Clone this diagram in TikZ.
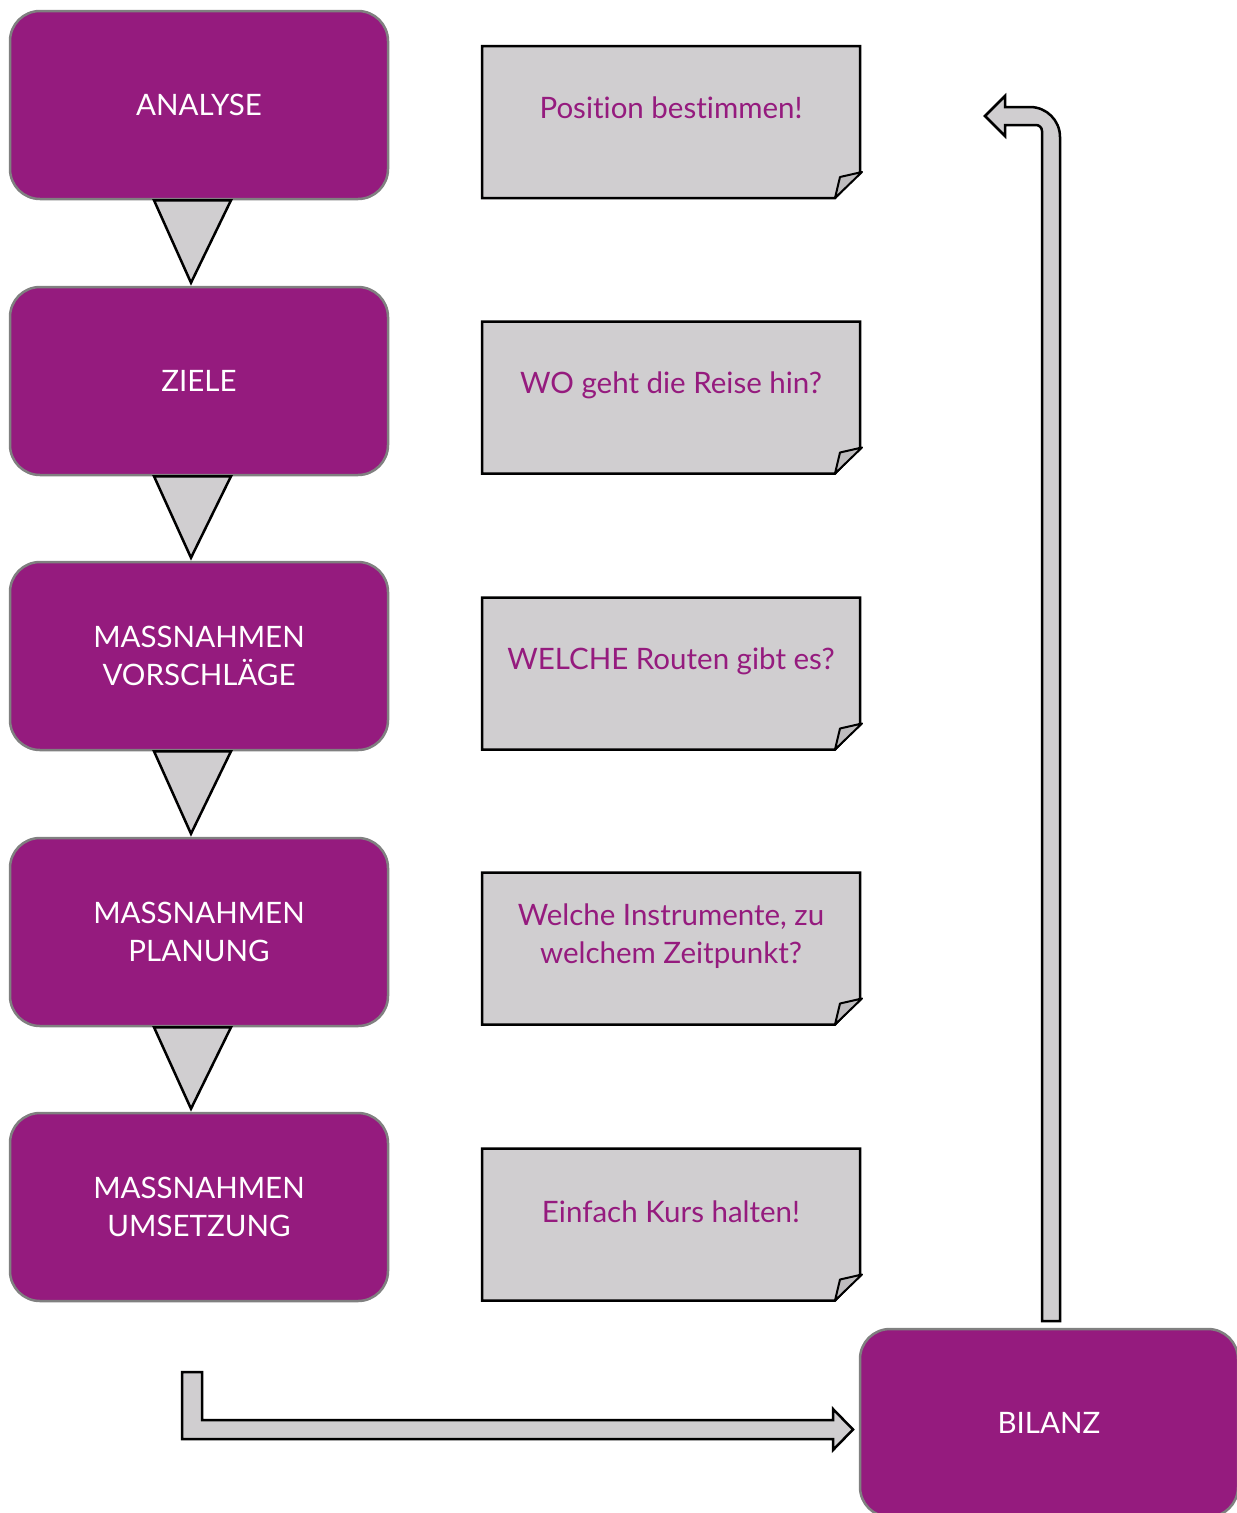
\documentclass[tikz,border=0pt]{standalone}
\usepackage{fontspec}
\setmainfont{Lato}[Ligatures={NoCommon,NoRare}]
\usetikzlibrary{calc}
\definecolor{boxpurple}{RGB}{149,27,126}
\definecolor{boxborder}{RGB}{128,128,128}
\definecolor{notegray}{RGB}{208,206,208}
\definecolor{foldgray}{RGB}{190,188,190}
\pgfdeclarelayer{bg}
\pgfsetlayers{bg,main}
\tikzset{
  stagebox/.style={rectangle, rounded corners=30pt, fill=boxpurple, draw=boxborder,
    line width=2.5pt, minimum width=378pt, minimum height=188pt, inner sep=0pt,
    text=white, align=center, font=\fontsize{29.5}{38}\selectfont},
  notearea/.style={rectangle, minimum width=378pt, minimum height=152pt, inner sep=0pt, outer sep=0pt},
  notetext/.style={text=boxpurple, align=center, font=\fontsize{29.5}{38}\selectfont, inner sep=0pt},
  noteshape/.style={fill=notegray, draw=black, line width=2.5pt, line join=miter},
  foldshape/.style={fill=foldgray, draw=black, line width=2pt, line join=round},
  tri/.style={fill=notegray, draw=black, line width=2.5pt, line join=miter},
  blockarrow/.style={fill=notegray, draw=black, line width=2.5pt, line join=miter},
}
\newcommand\drawnote[1]{%
  \begin{pgfonlayer}{bg}
  \path[noteshape] (#1.north west) -- (#1.north east) -- ($(#1.south east)+(0,-26)$)
     -- ($(#1.south east)+(-25,0)$) -- (#1.south west) -- cycle;
  \path[foldshape] ($(#1.south east)+(-25,0)$) -- ($(#1.south east)+(-20,-21)$)
     -- ($(#1.south east)+(2,-26)$) -- cycle;
  \end{pgfonlayer}}
\newcommand\drawtri[2]{%
  \path[tri] ($(#1.south)+(-45,0)$) -- ($(#1.south)+(32,0)$) -- ($(#2.north)+(-8,-3)$) -- cycle;}
\begin{document}
\begin{tikzpicture}[x=1pt,y=-1pt]
\useasboundingbox (0,0) rectangle (1237,1513);
% stage boxes
\node[stagebox] (ana) at (199,105) {ANALYSE};
\node[stagebox] (zie) at (199,381) {ZIELE};
\node[stagebox] (vor) at (199,656) {MASSNAHMEN\\VORSCHLÄGE};
\node[stagebox] (pla) at (199,932) {MASSNAHMEN\\PLANUNG};
\node[stagebox] (ums) at (199,1207) {MASSNAHMEN\\UMSETZUNG};
\node[stagebox] (bil) at (1049,1423) {BILANZ};
% triangles
\drawtri{ana}{zie}
\drawtri{zie}{vor}
\drawtri{vor}{pla}
\drawtri{pla}{ums}
% notes
\node[notearea] (n1) at (671,122) {};
\node[notearea] (n2) at (671,397.5) {};
\node[notearea] (n3) at (671,673.5) {};
\node[notearea] (n4) at (671,948.5) {};
\node[notearea] (n5) at (671,1224.5) {};
\drawnote{n1}\drawnote{n2}\drawnote{n3}\drawnote{n4}\drawnote{n5}
\node[notetext] (t1) at ($(n1.center)+(0,-14)$) {Position bestimmen!};
\node[notetext] (t2) at ($(n2.center)+(0,-12)$) {WO geht die Reise hin?};
\node[notetext] (t3) at ($(n3.center)+(0,-12)$) {WELCHE Routen gibt es?};
\node[notetext] (t4) at ($(n4.center)+(0,-12)$) {Welche Instrumente, zu\\welchem Zeitpunkt?};
\node[notetext] (t5) at ($(n5.center)+(0,-13)$) {Einfach Kurs halten!};
% bottom block arrow from UMSETZUNG to BILANZ
\path[blockarrow] (182,1372) -- (202,1372) -- (202,1420) -- (833,1420) -- (833,1409)
   -- (853,1429.5) -- (833,1450) -- (833,1439) -- (182,1439) -- cycle;
% return block arrow from BILANZ up
\path[blockarrow] (1042,1321) -- (1042,131) .. controls (1042,127.7) and (1039.3,125) .. (1036,125)
   -- (1005,125) -- (1005,136) -- (985,116) -- (1005,96) -- (1005,107) -- (1030,107)
   .. controls (1046.6,107) and (1060,120.4) .. (1060,137) -- (1060,1321) -- cycle;
\end{tikzpicture}
\end{document}
